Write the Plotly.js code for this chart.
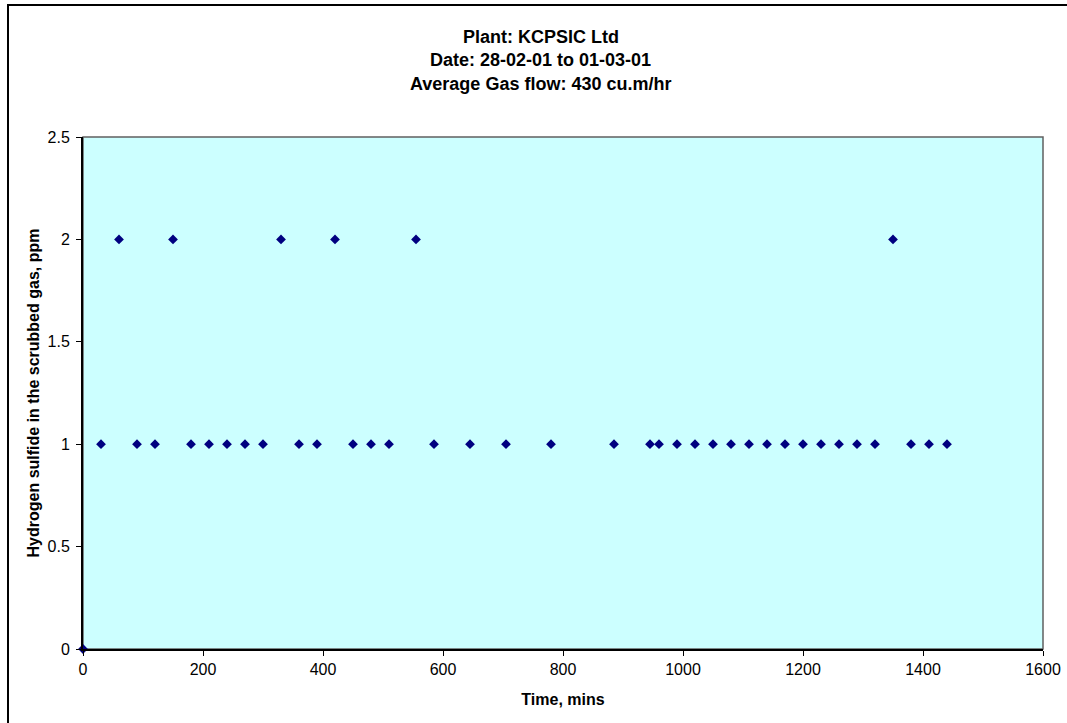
<!DOCTYPE html>
<html>
<head>
<meta charset="utf-8">
<script src="https://cdn.plot.ly/plotly-3.0.1.min.js"></script>
<style>
  html, body { margin: 0; padding: 0; background: #fff; overflow: hidden; }
  #wrap { position: relative; width: 1067px; height: 723px; }
  #chart { position: absolute; left: 0; top: 0; width: 1067px; height: 723px; }
  #frame { position: absolute; left: 7px; top: 4px; width: 1080px; height: 740px;
           border: 2px solid #000; box-sizing: border-box; pointer-events: none; }
</style>
</head>
<body>
<div id="wrap">
  <div id="chart"></div>
  <div id="frame"></div>
</div>
<script>
const titleLines = ['Plant: KCPSIC Ltd', 'Date: 28-02-01 to 01-03-01', 'Average Gas flow: 430 cu.m/hr'];
const xTitle = 'Time, mins';
const yTitle = 'Hydrogen sulfide in the scrubbed gas, ppm';

const timeMins = [0, 30, 60, 90, 120, 150, 180, 210, 240, 270, 300, 330, 360, 390, 420, 450, 480, 510,
  555, 585, 645, 705, 780, 885, 945, 960, 990, 1020, 1050, 1080, 1110, 1140, 1170, 1200, 1230,
  1260, 1290, 1320, 1350, 1380, 1410, 1440];
const h2sPpm = [0, 1, 2, 1, 1, 2, 1, 1, 1, 1, 1, 2, 1, 1, 2, 1, 1, 1,
  2, 1, 1, 1, 1, 1, 1, 1, 1, 1, 1, 1, 1, 1, 1, 1, 1,
  1, 1, 1, 2, 1, 1, 1];

const font = 'Liberation Sans, Arial, sans-serif';

const trace = {
  x: timeMins, y: h2sPpm, type: 'scatter', mode: 'markers',
  marker: { symbol: 'diamond', size: 7.5, color: '#000080', line: { width: 0 } },
  cliponaxis: false, hoverinfo: 'x+y', showlegend: false
};

const titleY = [1.196, 1.150, 1.104];
const annotations = titleLines.map((t, i) => ({
  text: '<b>' + t + '</b>', xref: 'paper', yref: 'paper', x: 0.477, y: titleY[i],
  xanchor: 'center', yanchor: 'middle', showarrow: false,
  font: { family: font, size: 18, color: '#000' }
}));

const layout = {
  width: 1067, height: 723,
  margin: { l: 83, r: 24, t: 137, b: 74, pad: 0 },
  paper_bgcolor: '#ffffff', plot_bgcolor: '#CCFFFF',
  font: { family: font, size: 16, color: '#000' },
  xaxis: {
    range: [0, 1600], dtick: 200, tick0: 0, showgrid: false, zeroline: false,
    showline: true, linecolor: '#000', linewidth: 2,
    ticks: 'outside', ticklen: 5, tickwidth: 1, tickcolor: '#000',
    tickfont: { family: font, size: 16 },
    title: { text: '<b>' + xTitle + '</b>', font: { family: font, size: 16 }, standoff: 17 }
  },
  yaxis: {
    range: [0, 2.5], dtick: 0.5, tick0: 0, showgrid: false, zeroline: false,
    showline: true, linecolor: '#000', linewidth: 2,
    ticks: 'outside', ticklen: 5, tickwidth: 1, tickcolor: '#000',
    ticklabelstandoff: 3,
    tickfont: { family: font, size: 16 },
    title: { text: '<b>' + yTitle + '</b>', font: { family: font, size: 16 }, standoff: 4 }
  },
  shapes: [{
    type: 'rect', xref: 'paper', yref: 'paper', x0: 0, x1: 1, y0: 0, y1: 1,
    line: { color: '#606060', width: 1.5 }, layer: 'below'
  }],
  annotations: annotations
};

Plotly.newPlot('chart', [trace], layout, { staticPlot: true, displayModeBar: false });
</script>
</body>
</html>
